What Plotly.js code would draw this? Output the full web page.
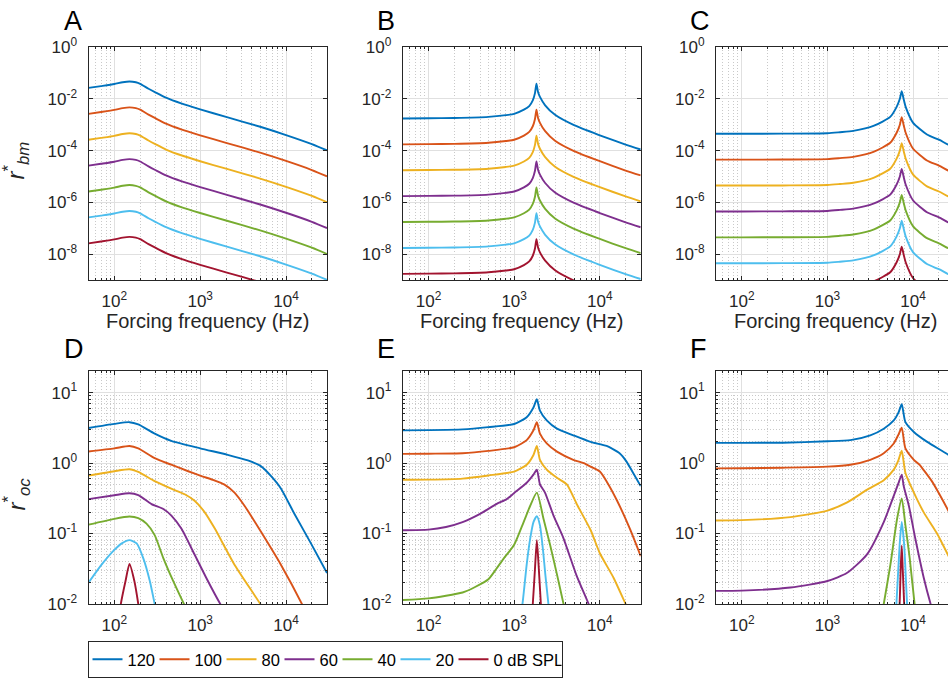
<!DOCTYPE html>
<html><head><meta charset="utf-8">
<script src="https://cdn.plot.ly/plotly-3.0.1.min.js"></script>
<style>html,body{margin:0;padding:0;overflow:hidden;background:#fff;width:948px;height:678px}#chart{width:960px;height:678px}</style>
</head><body><div id="chart"></div>
<script>
// ---------------- data ----------------
const levels = ['120','100','80','60','40','20','0 dB SPL'];

// Panel A (r*_bm, low CF)
const fA = [50,70,100,125,150,178,200,250,300,400,600,1000,2000,5000,10000,20000,30000];
const rA120 = [2.63e-2,3.09e-2,3.72e-2,4.37e-2,4.68e-2,4.37e-2,3.80e-2,2.45e-2,1.78e-2,1.10e-2,6.61e-3,3.89e-3,2.00e-3,8.32e-4,3.98e-4,1.78e-4,1.02e-4];
const rA100 = [2.63e-3,3.09e-3,3.72e-3,4.37e-3,4.68e-3,4.37e-3,3.80e-3,2.45e-3,1.78e-3,1.10e-3,6.61e-4,3.89e-4,2.00e-4,8.32e-5,3.98e-5,1.78e-5,1.02e-5];
const rA80  = [2.63e-4,3.09e-4,3.72e-4,4.37e-4,4.68e-4,4.37e-4,3.80e-4,2.45e-4,1.78e-4,1.10e-4,6.61e-5,3.89e-5,2.00e-5,8.32e-6,3.98e-6,1.78e-6,1.02e-6];
const rA60  = [2.63e-5,3.09e-5,3.72e-5,4.37e-5,4.68e-5,4.37e-5,3.80e-5,2.45e-5,1.78e-5,1.10e-5,6.61e-6,3.89e-6,2.00e-6,8.32e-7,3.98e-7,1.78e-7,1.02e-7];
const rA40  = [2.63e-6,3.09e-6,3.72e-6,4.37e-6,4.68e-6,4.37e-6,3.80e-6,2.45e-6,1.78e-6,1.10e-6,6.61e-7,3.89e-7,2.00e-7,8.32e-8,3.98e-8,1.78e-8,1.02e-8];
const rA20  = [2.63e-7,3.09e-7,3.72e-7,4.37e-7,4.68e-7,4.37e-7,3.80e-7,2.45e-7,1.78e-7,1.10e-7,6.61e-8,3.89e-8,2.00e-8,8.32e-9,3.98e-9,1.78e-9,1.02e-9];
const rA0   = [2.63e-8,3.09e-8,3.72e-8,4.37e-8,4.68e-8,4.37e-8,3.80e-8,2.45e-8,1.78e-8,1.10e-8,6.61e-9,3.89e-9,2.00e-9,8.32e-10,3.98e-10,1.78e-10,1.02e-10];

// Panel B (r*_bm, mid CF)
const fB = [50,100,200,500,800,1000,1300,1500,1650,1750,1820,1900,2000,2300,3000,5000,10000,20000,30000];
const rB120 = [1.74e-3,1.78e-3,1.82e-3,2.00e-3,2.34e-3,2.63e-3,3.80e-3,5.25e-3,8.71e-3,1.66e-2,3.80e-2,1.82e-2,1.18e-2,5.62e-3,2.40e-3,9.55e-4,3.89e-4,1.70e-4,1.10e-4];
const rB100 = [1.74e-4,1.78e-4,1.82e-4,2.00e-4,2.34e-4,2.63e-4,3.80e-4,5.25e-4,8.71e-4,1.66e-3,3.80e-3,1.82e-3,1.18e-3,5.62e-4,2.40e-4,9.55e-5,3.89e-5,1.70e-5,1.10e-5];
const rB80  = [1.74e-5,1.78e-5,1.82e-5,2.00e-5,2.34e-5,2.63e-5,3.80e-5,5.25e-5,8.71e-5,1.66e-4,3.80e-4,1.82e-4,1.18e-4,5.62e-5,2.40e-5,9.55e-6,3.89e-6,1.70e-6,1.10e-6];
const rB60  = [1.74e-6,1.78e-6,1.82e-6,2.00e-6,2.34e-6,2.63e-6,3.80e-6,5.25e-6,8.71e-6,1.66e-5,3.80e-5,1.82e-5,1.18e-5,5.62e-6,2.40e-6,9.55e-7,3.89e-7,1.70e-7,1.10e-7];
const rB40  = [1.74e-7,1.78e-7,1.82e-7,2.00e-7,2.34e-7,2.63e-7,3.80e-7,5.25e-7,8.71e-7,1.66e-6,3.80e-6,1.82e-6,1.18e-6,5.62e-7,2.40e-7,9.55e-8,3.89e-8,1.70e-8,1.10e-8];
const rB20  = [1.74e-8,1.78e-8,1.82e-8,2.00e-8,2.34e-8,2.63e-8,3.80e-8,5.25e-8,8.71e-8,1.66e-7,3.80e-7,1.82e-7,1.18e-7,5.62e-8,2.40e-8,9.55e-9,3.89e-9,1.70e-9,1.10e-9];
const rB0   = [1.74e-9,1.78e-9,1.82e-9,2.00e-9,2.34e-9,2.63e-9,3.80e-9,5.25e-9,8.71e-9,1.66e-8,3.80e-8,1.82e-8,1.18e-8,5.62e-9,2.40e-9,9.55e-10,3.89e-10,1.70e-10,1.10e-10];

// Panel C (r*_bm, high CF)
const fC = [50,100,300,1000,1400,2000,3500,5400,6400,7000,7360,7800,8200,10000,14500,20000,25700,30000];
const rC120 = [4.47e-4,4.47e-4,4.52e-4,4.68e-4,5.13e-4,5.75e-4,9.12e-4,2.00e-3,4.79e-3,1.00e-2,1.95e-2,8.91e-3,4.79e-3,1.18e-3,4.17e-4,2.63e-4,1.70e-4,1.38e-4];
const rC100 = [4.47e-5,4.47e-5,4.52e-5,4.68e-5,5.13e-5,5.75e-5,9.12e-5,2.00e-4,4.79e-4,1.00e-3,1.95e-3,8.91e-4,4.79e-4,1.18e-4,4.17e-5,2.63e-5,1.70e-5,1.38e-5];
const rC80  = [4.47e-6,4.47e-6,4.52e-6,4.68e-6,5.13e-6,5.75e-6,9.12e-6,2.00e-5,4.79e-5,1.00e-4,1.95e-4,8.91e-5,4.79e-5,1.18e-5,4.17e-6,2.63e-6,1.70e-6,1.38e-6];
const rC60  = [4.47e-7,4.47e-7,4.52e-7,4.68e-7,5.13e-7,5.75e-7,9.12e-7,2.00e-6,4.79e-6,1.00e-5,1.95e-5,8.91e-6,4.79e-6,1.18e-6,4.17e-7,2.63e-7,1.70e-7,1.38e-7];
const rC40  = [4.47e-8,4.47e-8,4.52e-8,4.68e-8,5.13e-8,5.75e-8,9.12e-8,2.00e-7,4.79e-7,1.00e-6,1.95e-6,8.91e-7,4.79e-7,1.18e-7,4.17e-8,2.63e-8,1.70e-8,1.38e-8];
const rC20  = [4.47e-9,4.47e-9,4.52e-9,4.68e-9,5.13e-9,5.75e-9,9.12e-9,2.00e-8,4.79e-8,1.00e-7,1.95e-7,8.91e-8,4.79e-8,1.18e-8,4.17e-9,2.63e-9,1.70e-9,1.38e-9];
const rC0   = [4.47e-10,4.47e-10,4.52e-10,4.68e-10,5.13e-10,5.75e-10,9.12e-10,2.00e-9,4.79e-9,1.00e-8,1.95e-8,8.91e-9,4.79e-9,1.18e-9,4.17e-10,2.63e-10,1.70e-10,1.38e-10];

// Panel D (r*_oc, low CF)
const fD120 = [50,100,150,190,295,460,1000,2090,3590,5130,6700,8710,12500,19500,30000];
const rD120 = [3.15,3.61,3.81,3.54,2.62,2.07,1.62,1.31,1.09,0.898,0.652,0.437,0.191,0.0724,0.0275];
const fD100 = [50,100,150,190,295,460,725,1000,1480,1900,2510,3280,5130,8710,15300,20000];
const rD100 = [1.46,1.62,1.75,1.62,1.175,0.948,0.766,0.665,0.566,0.499,0.381,0.248,0.105,0.0361,0.01,0.005];
const fD80 = [50,100,150,190,295,460,660,860,1130,1480,2510,5010,7000];
const rD80 = [0.665,0.766,0.817,0.748,0.555,0.434,0.361,0.292,0.200,0.1175,0.0361,0.01,0.005];
const fD60 = [50,100,150,190,271,372,462,603,863,1175,1714,2400];
const rD60 = [0.308,0.350,0.373,0.350,0.262,0.223,0.180,0.1175,0.0499,0.0236,0.01,0.005];
const fD40 = [50,100,150,190,237,295,372,484,646,850];
const rD40 = [0.1337,0.1618,0.1746,0.1656,0.138,0.0948,0.0448,0.0212,0.01,0.005];
const fD20 = [50,71,100,122,150,182,217,259,295,330];
const rD20 = [0.02,0.0361,0.0585,0.0724,0.0807,0.0724,0.0448,0.0212,0.01,0.005];
const fD0 = [110,119,135,150,171,190,205];
const rD0 = [0.005,0.01,0.0212,0.0369,0.0212,0.01,0.005];

// Panel E (r*_oc, mid CF)
const fE120 = [50,100,250,500,1000,1400,1680,1840,2000,2400,3160,4900,7800,12000,17000,20500,24500,30000];
const rE120 = [2.92,2.94,3.01,3.24,3.59,4.48,6.17,8.07,5.55,4.03,3.08,2.48,2.00,1.75,1.38,1.05,0.724,0.472];
const fE100 = [50,100,250,500,1000,1400,1680,1840,2000,2400,3160,4900,6500,7800,10000,12000,15700,22400,30000];
const rE100 = [1.35,1.36,1.38,1.49,1.68,2.12,2.92,3.81,2.62,1.90,1.455,1.114,1.0,0.891,0.759,0.550,0.302,0.1175,0.0479];
const fE80 = [50,100,250,500,1000,1400,1680,1840,2000,2400,3160,4120,5370,7800,10000,14500,20000,24000];
const rE80 = [0.579,0.582,0.603,0.668,0.759,0.948,1.306,1.746,1.114,0.807,0.618,0.499,0.263,0.1122,0.0525,0.0234,0.01,0.0063];
const fE60 = [50,100,160,250,400,620,820,1000,1400,1680,1840,2000,2290,2880,3720,5370,7400,9000];
const rE60 = [0.1114,0.1135,0.1239,0.1455,0.1905,0.262,0.308,0.376,0.526,0.687,0.807,0.499,0.381,0.180,0.0891,0.0251,0.01,0.005];
const fE40 = [50,100,250,350,500,620,750,1000,1290,1540,1840,2200,2630,3160,3770,4300];
const rE40 = [0.01138,0.01202,0.01456,0.0174,0.0224,0.0316,0.0437,0.0692,0.1455,0.248,0.381,0.1622,0.0687,0.0263,0.01,0.005];
const fE20 = [1100,1250,1400,1540,1680,1840,2000,2180,2310,2510,2700];
const rE20 = [0.004,0.01,0.0363,0.0851,0.1455,0.1766,0.1306,0.0555,0.0263,0.01,0.004];
const fE0 = [1550,1650,1750,1840,1940,2050,2150];
const rE0 = [0.004,0.01,0.0316,0.0807,0.0316,0.01,0.004];

// Panel F (r*_oc, high CF)
const fF120 = [50,100,300,1000,1850,3160,4540,5940,6760,7360,8130,10200,14600,25900,30000];
const rF120 = [1.94,1.94,1.95,2.04,2.12,2.48,3.08,4.03,5.25,6.87,3.81,2.77,2.00,1.306,1.122];
const fF100 = [50,100,300,1000,1850,3160,4540,5940,6760,7360,8130,10200,12000,13300,16600,20900,25900,30000];
const rF100 = [0.843,0.847,0.861,0.891,0.948,1.114,1.38,1.90,2.56,3.18,1.62,1.114,0.933,0.794,0.550,0.339,0.209,0.148];
const fF80 = [50,100,370,1000,1700,2880,4540,5940,6760,7360,8130,10200,13300,19000,25900,30000];
const rF80 = [0.1535,0.155,0.171,0.212,0.277,0.417,0.573,0.807,1.114,1.503,0.724,0.381,0.1995,0.1,0.0479,0.0331];
const fF60 = [50,100,370,1000,1700,2880,4540,5940,6760,7360,7760,8910,10600,13300,16000,19000];
const rF60 = [0.01535,0.01549,0.0171,0.0212,0.0277,0.0501,0.1455,0.343,0.525,0.687,0.472,0.248,0.0851,0.0236,0.01,0.005];
const fF40 = [4000,4540,5430,6500,7360,8130,9120,10400,11500];
const rF40 = [0.004,0.01,0.0361,0.1622,0.315,0.1306,0.0448,0.01,0.004];
const fF20 = [6000,6380,6960,7360,7860,8500,9000];
const rF20 = [0.004,0.01,0.0687,0.1455,0.0687,0.01,0.004];
const fF0 = [6700,6960,7160,7360,7560,7860,8100];
const rF0 = [0.004,0.01,0.0316,0.0673,0.0316,0.01,0.004];

// ---------------- styling ----------------
const colors = ['#0072BD','#D95319','#EDB120','#7E2F8E','#77AC30','#4DBEEE','#A2142F'];
const legendWidths = [22,22,13,13,13,13,63];
const FONT = 'Liberation Sans, Arial, Helvetica, sans-serif';
const INK = '#262626';
const W = 960, H = 678;
const px = p => p / W;
const py = p => 1 - p / H;

const panels = [
  {xa:'x',  ya:'y',  s:[[fA,rA120],[fA,rA100],[fA,rA80],[fA,rA60],[fA,rA40],[fA,rA20],[fA,rA0]]},
  {xa:'x2', ya:'y2', s:[[fB,rB120],[fB,rB100],[fB,rB80],[fB,rB60],[fB,rB40],[fB,rB20],[fB,rB0]]},
  {xa:'x3', ya:'y3', s:[[fC,rC120],[fC,rC100],[fC,rC80],[fC,rC60],[fC,rC40],[fC,rC20],[fC,rC0]]},
  {xa:'x4', ya:'y4', s:[[fD120,rD120],[fD100,rD100],[fD80,rD80],[fD60,rD60],[fD40,rD40],[fD20,rD20],[fD0,rD0]]},
  {xa:'x5', ya:'y5', s:[[fE120,rE120],[fE100,rE100],[fE80,rE80],[fE60,rE60],[fE40,rE40],[fE20,rE20],[fE0,rE0]]},
  {xa:'x6', ya:'y6', s:[[fF120,rF120],[fF100,rF100],[fF80,rF80],[fF60,rF60],[fF40,rF40],[fF20,rF20],[fF0,rF0]]}
];

const traces = [];
panels.forEach((p, pi) => {
  p.s.forEach((pair, k) => {
    traces.push({
      type: 'scatter', mode: 'lines',
      x: pair[0], y: pair[1],
      xaxis: p.xa, yaxis: p.ya,
      name: levels[k], legendgroup: levels[k],
      showlegend: pi === 0, legendwidth: legendWidths[k],
      line: {color: colors[k], width: 1.9, shape: 'spline', smoothing: 0.6},
      hoverinfo: 'skip'
    });
  });
});

// minor tick positions (axis styling)
const minorX = [];
[10,100,1000,10000].forEach(d => { for (let k = 2; k <= 9; k++) { const v = k*d; if (v >= 50 && v <= 30000) minorX.push(v); } });
const minorYb = [];
[0.01,0.1,1,10].forEach(d => { for (let k = 2; k <= 9; k++) { const v = k*d; if (v <= 20) minorYb.push(v); } });

const xDom = [[88.5,327],[402.7,640.7],[716,954]];
const yDomTop = [py(286), py(48)];
const yDomBot = [py(616.7), py(379.3)];
const MINOR_GRID = {ticks: 'inside', ticklen: 2, tickcolor: INK,
  showgrid: true, gridcolor: '#c9c9c9', griddash: '1px,2px', gridwidth: 1};

function xAxis(col, yName) {
  return {
    type: 'log', domain: [px(xDom[col][0]), px(xDom[col][1])],
    range: [Math.log10(50), Math.log10(30000)], anchor: yName,
    tickmode: 'array', tickvals: [100,1000,10000],
    ticktext: ['10<sup>2</sup>','10<sup>3</sup>','10<sup>4</sup>'],
    ticks: 'inside', ticklen: 4, tickcolor: INK, tickwidth: 1,
    showline: true, linecolor: INK, linewidth: 1, mirror: 'ticks',
    showgrid: true, gridcolor: '#e0e0e0', gridwidth: 1, zeroline: false,
    tickfont: {family: FONT, size: 17, color: INK}, ticklabelstandoff: 6,
    minor: Object.assign({tickmode: 'array', tickvals: minorX}, MINOR_GRID),
    fixedrange: true
  };
}
function yAxisTop(xName) {
  return {
    type: 'log', domain: yDomTop, range: [-9, 0], anchor: xName,
    tickmode: 'array', tickvals: [1e-8,1e-6,1e-4,1e-2,1],
    ticktext: ['10<sup>-8</sup>','10<sup>-6</sup>','10<sup>-4</sup>','10<sup>-2</sup>','10<sup>0</sup>'],
    ticks: 'inside', ticklen: 4, tickcolor: INK,
    showline: true, linecolor: INK, linewidth: 1, mirror: 'ticks',
    showgrid: true, gridcolor: '#e0e0e0', zeroline: false,
    tickfont: {family: FONT, size: 17, color: INK}, ticklabelstandoff: 7,
    fixedrange: true
  };
}
function yAxisBot(xName) {
  return {
    type: 'log', domain: yDomBot, range: [-2, Math.log10(20)], anchor: xName,
    tickmode: 'array', tickvals: [0.01,0.1,1,10],
    ticktext: ['10<sup>-2</sup>','10<sup>-1</sup>','10<sup>0</sup>','10<sup>1</sup>'],
    ticks: 'inside', ticklen: 4, tickcolor: INK,
    showline: true, linecolor: INK, linewidth: 1, mirror: 'ticks',
    showgrid: true, gridcolor: '#e0e0e0', zeroline: false,
    tickfont: {family: FONT, size: 17, color: INK}, ticklabelstandoff: 7,
    minor: Object.assign({tickmode: 'array', tickvals: minorYb}, MINOR_GRID),
    fixedrange: true
  };
}

const ann = [];
const letters = [['A',62,21],['B',375,21],['C',688,21],['D',62,356],['E',375,356],['F',688,356]];
letters.forEach(l => ann.push({text: l[0], xref:'paper', yref:'paper', x: px(l[1]), y: py(l[2]),
  xanchor:'left', yanchor:'middle', showarrow:false, font:{family: FONT, size: 27, color:'#000'}}));
[[207.75],[521.7],[835]].forEach(c => ann.push({text:'Forcing frequency (Hz)', xref:'paper', yref:'paper',
  x: px(c[0]), y: py(328), xanchor:'center', yanchor:'middle', showarrow:false,
  font:{family: FONT, size: 20, color: INK}}));
ann.push({text:'<i>r</i><sup>*</sup><sub><i>bm</i></sub>', xref:'paper', yref:'paper', x: px(16), y: py(164),
  xanchor:'center', yanchor:'middle', textangle:-90, showarrow:false, font:{family: FONT, size: 24, color: INK}});
ann.push({text:'<i>r</i><sup>*</sup><sub><i>oc</i></sub>', xref:'paper', yref:'paper', x: px(16), y: py(505),
  xanchor:'center', yanchor:'middle', textangle:-90, showarrow:false, font:{family: FONT, size: 24, color: INK}});

const layout = {
  width: W, height: H,
  margin: {l:0, r:0, t:0, b:0},
  paper_bgcolor: '#fff', plot_bgcolor: '#fff',
  font: {family: FONT, color: INK},
  showlegend: true,
  legend: {orientation: 'h', x: px(87.5), y: py(655), xanchor: 'left', yanchor: 'top',
           bordercolor: INK, borderwidth: 1, bgcolor: '#fff', itemwidth: 30,
           font: {family: FONT, size: 16.5, color: '#000'}, tracegroupgap: 0},
  xaxis: xAxis(0,'y'), yaxis: yAxisTop('x'),
  xaxis2: xAxis(1,'y2'), yaxis2: yAxisTop('x2'),
  xaxis3: xAxis(2,'y3'), yaxis3: yAxisTop('x3'),
  xaxis4: xAxis(0,'y4'), yaxis4: yAxisBot('x4'),
  xaxis5: xAxis(1,'y5'), yaxis5: yAxisBot('x5'),
  xaxis6: xAxis(2,'y6'), yaxis6: yAxisBot('x6'),
  annotations: ann
};

Plotly.newPlot('chart', traces, layout, {staticPlot: true, displayModeBar: false});
</script></body></html>
